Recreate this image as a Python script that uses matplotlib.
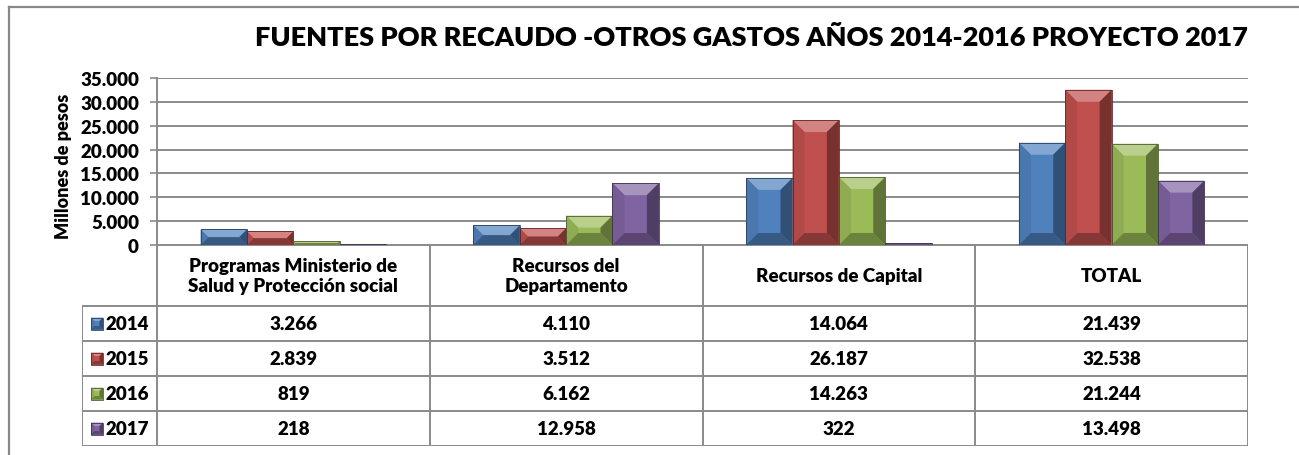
import numpy as np
import matplotlib
matplotlib.use("Agg")
import matplotlib.pyplot as plt
import matplotlib.colors as mcolors
from matplotlib.patches import Polygon, Rectangle
from matplotlib.lines import Line2D
from matplotlib.ticker import FuncFormatter

# datos
categories = ["Programas Ministerio de\nSalud y Protección social",
              "Recursos del\nDepartamento",
              "Recursos de Capital",
              "TOTAL"]
years = ["2014", "2015", "2016", "2017"]
v2014 = [3266, 4110, 14064, 21439]
v2015 = [2839, 3512, 26187, 32538]
v2016 = [819, 6162, 14263, 21244]
v2017 = [218, 12958, 322, 13498]
series = [v2014, v2015, v2016, v2017]
colors = ["#4F81BD", "#C0504D", "#9BBB59", "#8064A2"]
yticks = [0, 5000, 10000, 15000, 20000, 25000, 30000, 35000]

title = "FUENTES POR RECAUDO -OTROS GASTOS AÑOS 2014-2016 PROYECTO 2017"
ylabel = "Millones de pesos"

plt.rcParams['font.family'] = ['Lato', 'DejaVu Sans']
plt.rcParams['font.weight'] = 'heavy'

GRAY = "#8a8a8a"


def fmt(v):
    return f"{int(v):,}".replace(",", ".")


def shade(c, f):
    c = np.array(mcolors.to_rgb(c))
    if f > 0:
        return c + (1 - c) * f
    return c * (1 + f)


def bevel(ax, x0, y0, w, h, color, bpx, sx, sy, z=3):
    # rectangulo con biselado tipo Excel; sx, sy = unidades de datos por pixel
    if h == 0:
        return
    b = min(bpx, abs(h / sy) / 2, abs(w / sx) / 2)
    bx, by = b * sx, b * sy * np.sign(h)
    x1, y1 = x0 + w, y0 + h
    parts = [
        ([(x0, y1), (x1, y1), (x1 - bx, y1 - by), (x0 + bx, y1 - by)], 0.3),
        ([(x0, y0), (x0 + bx, y0 + by), (x0 + bx, y1 - by), (x0, y1)], -0.08),
        ([(x1, y0), (x1, y1), (x1 - bx, y1 - by), (x1 - bx, y0 + by)], -0.38),
        ([(x0, y0), (x1, y0), (x1 - bx, y0 + by), (x0 + bx, y0 + by)], -0.3),
    ]
    for pts, f in parts:
        ax.add_patch(Polygon(pts, closed=True, fc=shade(color, f), ec="none", zorder=z + 0.1))
    ax.add_patch(Rectangle((x0, y0), w, h, fc="none", ec=shade(color, -0.5), lw=0.6, zorder=z + 0.2))


W, H = 1299, 456
fig = plt.figure(figsize=(W / 100, H / 100), dpi=100)

# posiciones en pixeles
L, R, T, B = 157, 1248, 79, 246
tbl_left, hdr_bottom, tbl_bottom = 82, 307, 447
row_h = (tbl_bottom - hdr_bottom) / len(years)
colw = (R - L) / len(categories)

ax = fig.add_axes([L / W, 1 - B / H, (R - L) / W, (B - T) / H])
n = len(series)
bw = 0.17
x = np.arange(len(categories))
bars = []
for i, vals in enumerate(series):
    bc = ax.bar(x + (i - (n - 1) / 2) * bw, vals, bw, color=colors[i], zorder=3)
    bars.append(bc)

ax.set_xlim(-0.5, len(categories) - 0.5)
ax.set_ylim(0, 35000)
ax.set_yticks(yticks)
ax.yaxis.set_major_formatter(FuncFormatter(lambda v, p: fmt(v)))
ax.set_xticks([])
ax.grid(axis="y", color=GRAY, lw=1.4, zorder=0)
ax.set_axisbelow(True)
for s in ["top", "right", "bottom"]:
    ax.spines[s].set_visible(False)
ax.spines["left"].set_color(GRAY)
ax.spines["left"].set_linewidth(1.4)
ax.tick_params(axis="y", length=5, width=1.2, color=GRAY, pad=8, labelsize=13.5)

sx = (ax.get_xlim()[1] - ax.get_xlim()[0]) / (R - L)
sy = (ax.get_ylim()[1] - ax.get_ylim()[0]) / (B - T)
for i, bc in enumerate(bars):
    for p in bc.patches:
        bevel(ax, p.get_x(), p.get_y(), p.get_width(), p.get_height(), colors[i], 12, sx, sy)

fig.text(63 / W, 1 - 166 / H, ylabel, rotation=90, ha="center", va="center", fontsize=13)
fig.text(751 / W, 1 - 38 / H, title, ha="center", va="center", fontsize=19.5)

# tabla de datos debajo del eje
tax = fig.add_axes([tbl_left / W, 1 - tbl_bottom / H, (R - tbl_left) / W, (tbl_bottom - B) / H])
tax.set_xlim(tbl_left, R)
tax.set_ylim(tbl_bottom, B)
tax.axis("off")
lk = dict(color=GRAY, lw=1.4, solid_capstyle="projecting")
tax.plot([L, R], [B, B], **lk)
for k in range(len(years) + 1):
    yy = hdr_bottom + k * row_h
    tax.plot([tbl_left, R], [yy, yy], **lk)
tax.plot([tbl_left, tbl_left], [hdr_bottom, tbl_bottom], **lk)
for c in range(len(categories) + 1):
    xx = L + c * colw
    tax.plot([xx, xx], [B, tbl_bottom], **lk)
for c, name in enumerate(categories):
    cx = L + (c + 0.5) * colw
    tax.text(cx, (B + hdr_bottom) / 2, name, ha="center", va="center", fontsize=13.5, linespacing=1.25)
    for r, vals in enumerate(series):
        tax.text(cx, hdr_bottom + (r + 0.5) * row_h, fmt(vals[c]), ha="center", va="center", fontsize=13.5)
for r, yr in enumerate(years):
    cy = hdr_bottom + (r + 0.5) * row_h
    # llave de la leyenda (eje invertido: altura negativa)
    tax.add_patch(Rectangle((91, cy - 6), 12, 12, fc=colors[r], ec="none", zorder=3))
    bevel(tax, 91, cy + 6, 12, -12, colors[r], 3.5, 1, 1)
    tax.text(106, cy, yr, ha="left", va="center", fontsize=13.5)

# borde exterior del grafico
fig.add_artist(Line2D([9 / W, 9 / W], [0, 1 - 8 / H], color="#888888", lw=1.6))
fig.add_artist(Line2D([9 / W, 1], [1 - 8 / H, 1 - 8 / H], color="#888888", lw=1.6))

fig.savefig("out.png", dpi=100)
